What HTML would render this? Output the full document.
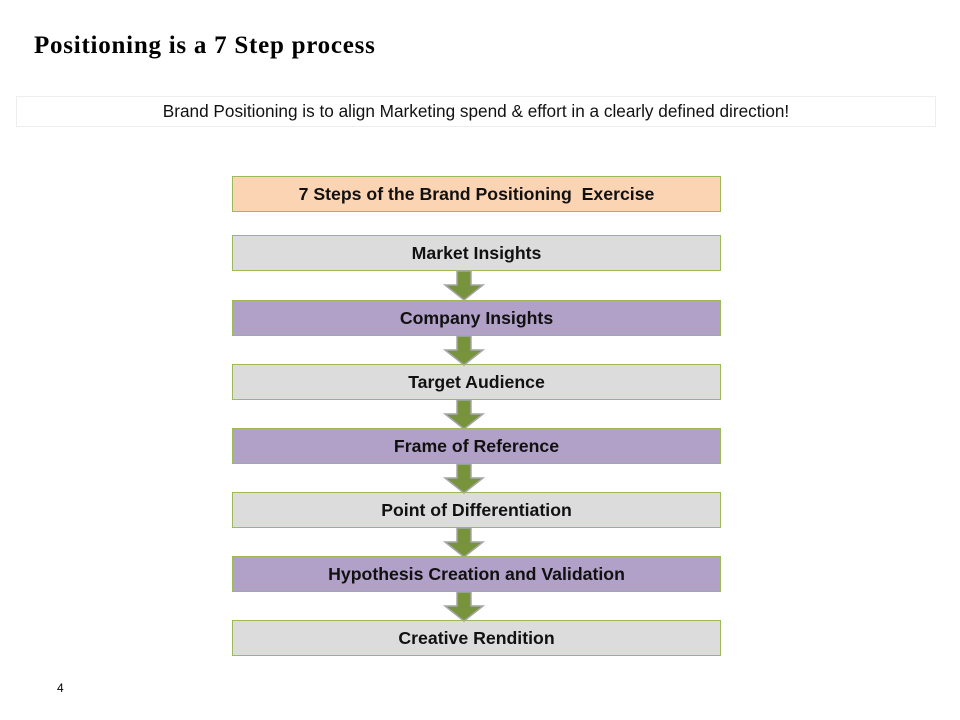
<!DOCTYPE html>
<html><head><style>
body{margin:0;width:960px;height:720px;background:#fff;position:relative;overflow:hidden;font-family:"Liberation Sans",sans-serif}
.t{position:absolute;left:34px;top:31px;font-family:"Liberation Serif",serif;font-weight:bold;font-size:25px;letter-spacing:0.75px;line-height:30px}
.sub{position:absolute;left:16px;top:96px;width:920px;height:31px;border:1px solid #eee;box-sizing:border-box;text-align:center;font-size:17.2px;line-height:29px;color:#111}
.b{position:absolute;left:232px;width:489px;height:36px;box-sizing:border-box;border:1px solid #9bbb59;text-align:center;font-weight:bold;font-size:17.7px;line-height:34px;color:#111}
.g{background:#dcdcdc}.p{background:#b1a0c7}.h{background:#fad4b3}
svg{position:absolute;left:0;top:0}
.n{position:absolute;left:57px;top:681px;font-size:12px}
</style></head><body>
<div class="t">Positioning is a 7 Step process</div>
<div class="sub">Brand Positioning is to align Marketing spend &amp; effort in a clearly defined direction!</div>
<div class="b h" style="top:176px">7 Steps of the Brand Positioning&nbsp; Exercise</div>
<div class="b g" style="top:235px">Market Insights</div>
<div class="b p" style="top:300px">Company Insights</div>
<div class="b g" style="top:364px">Target Audience</div>
<div class="b p" style="top:428px">Frame of Reference</div>
<div class="b g" style="top:492px">Point of Differentiation</div>
<div class="b p" style="top:556px">Hypothesis Creation and Validation</div>
<div class="b g" style="top:620px">Creative Rendition</div>
<svg width="960" height="720">
<g fill="#77933c" stroke="#a6a6a6" stroke-width="1.5">
<path d="M457,271 H471 V285 H483 L464,300 L445,285 H457 Z"/>
<path d="M457,336 H471 V350 H483 L464,365 L445,350 H457 Z"/>
<path d="M457,400 H471 V414 H483 L464,429 L445,414 H457 Z"/>
<path d="M457,464 H471 V478 H483 L464,493 L445,478 H457 Z"/>
<path d="M457,528 H471 V542 H483 L464,557 L445,542 H457 Z"/>
<path d="M457,592 H471 V606 H483 L464,621 L445,606 H457 Z"/>
</g>
</svg>
<div class="n">4</div>
</body></html>
